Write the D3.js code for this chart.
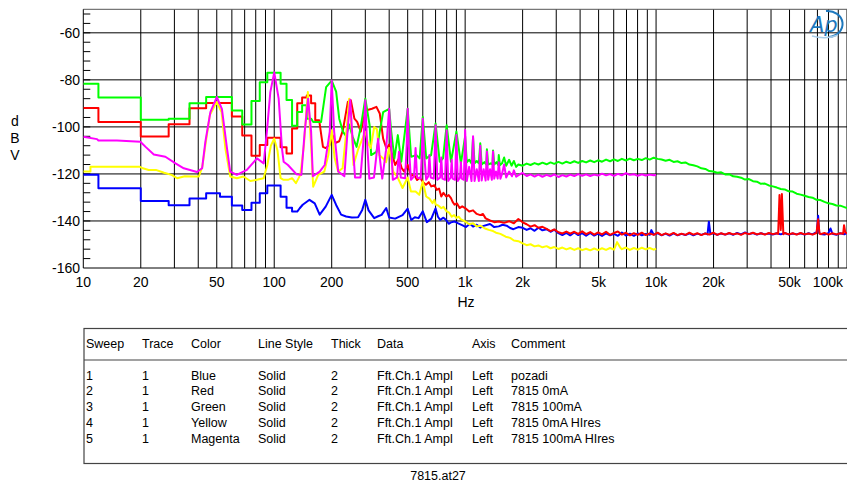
<!DOCTYPE html>
<html><head><meta charset="utf-8">
<script src="https://cdn.jsdelivr.net/npm/d3@7"></script>
<style>
body{margin:0;background:#fff;}
svg{display:block;font-family:"Liberation Sans",Arial,sans-serif;}
</style></head><body>
<svg id="c" width="847" height="483"></svg>
<script>
// ---------- data ----------
const yTickValues = [-60,-80,-100,-120,-140,-160];
const xTickValues = [10,20,50,100,200,500,1000,2000,5000,10000,20000,50000,100000];
const xTickLabels = ["10","20","50","100","200","500","1k","2k","5k","10k","20k","50k","100k"];
const xAxisTitle = "Hz";
const yAxisTitle = ["d","B","V"];
const fileCaption = "7815.at27";

const bluePozadi = [[10,-120.4],[12,-120.4],[12,-126.1],[20,-126.1],[20,-131.5],[28,-131.5],[28,-133.3],[36,-133.3],[36,-130.4],[44,-130.4],[44,-128.2],[52,-128.2],[52,-129.7],[60,-129.7],[60,-133.4],[68,-133.4],[68,-135.3],[76,-135.3],[76,-132.3],[84,-132.3],[84,-128.2],[92,-128.2],[92,-124.9],[108,-124.9],[108,-129.7],[116,-129.7],[116,-134.4],[124,-134.4],[124,-136],[132,-136],[136,-134.6],[141,-133.1],[153,-131],[163,-132.5],[173,-137.3],[186,-133.9],[200,-128.9],[211,-133.2],[224,-137.3],[238,-138.1],[255,-138.5],[275,-138.4],[289,-135.3],[300,-131],[312,-135.5],[334,-138.8],[350,-138],[365,-137.4],[386,-134.5],[400,-138.5],[430,-139],[470,-137.5],[500,-134.8],[522,-139.6],[545,-138.4],[570,-138.8],[600,-135.9],[630,-140.5],[665,-139],[700,-134.7],[720,-138.2],[740,-139.5],[770,-138.6],[795,-139.6],[820,-141.2],[843,-140.6],[880,-140.2],[920,-141],[970,-141.9],[1010,-142.6],[1060,-141.2],[1100,-142.4],[1150,-141.6],[1200,-142.8],[1250,-142.1],[1350,-141.3],[1420,-142.6],[1500,-142.3],[1570,-141.6],[1650,-142],[1720,-143],[1790,-143.5],[1900,-142.6],
[2000,-142.9],[2100,-143.8],[2200,-143.1],[2310,-144.2],[2420,-142.9],[2540,-144],[2670,-143.5],[2800,-144.6],[2930,-143.7],[3080,-145.2],[3230,-146],[3390,-145.1],[3550,-146.1],[3730,-144.9],[3910,-146],[4100,-145.2],[4300,-146.3],[4520,-145.1],[4740,-146.2],[4970,-145.4],[5210,-146.4],[5470,-145.3],[5740,-146.1],[6020,-145.5],[6310,-146.3],[6620,-144.9],[6950,-146.2],[7290,-145.4],[7650,-146.3],[8020,-145.3],[8420,-146.1],[8830,-145.5],[9260,-145.9],[9450,-143.9],[9720,-145.8],[10190,-145.2],[10690,-146.1],[11220,-145.4],[11770,-146.2],[12350,-145.3],[12950,-146.1],[13590,-145.5],[14250,-146],[14950,-145.3],[15680,-146.1],[16450,-145.4],[17260,-145.9],[18110,-145.3],[18600,-145.7],[18900,-140.3],[19250,-145.6],[19930,-145.2],[20910,-145.9],[21930,-145.3],[23010,-145.8],[24140,-145.2],[25320,-145.9],[26570,-145.1],[27870,-145.7],[29240,-144.9],[30670,-145.6],[32180,-145.1],[33750,-145.8],[35410,-145.2],[37150,-145.7],[38970,-145.3],[40880,-145.8],[42890,-145.2],[44990,-145.7],[47200,-145.1],[49520,-145.8],[51950,-145.3],[54500,-145.7],[57170,-145.2],[59980,-145.8],[62920,-145.2],[66010,-145.7],[69500,-144.6],[70600,-137.8],[71500,-145.1],[72640,-145.5],[76210,-145.8],[79950,-145.2],[82000,-143.2],[83870,-145.5],[87980,-145.9],[92300,-145.2],[96830,-145.7],[100000,-145.1]];

const red0mA = [[10,-92],[12,-92],[12,-97.9],[20,-97.9],[20,-104.1],[28,-104.1],[28,-98.9],[36,-98.9],[36,-92.1],[44,-92.1],[44,-89.8],[60,-89.8],[60,-95.6],[68,-95.6],[68,-103.7],[76,-103.7],[76,-112.3],[84,-112.3],[84,-107.7],[92,-107.7],[92,-104.6],[108,-104.6],[108,-108.7],[116,-108.7],[116,-111.3],[124,-111.3],[124,-100.7],[132,-100.7],[132,-90],[140,-90],[140,-87.5],[148,-87.5],[148,-86.6],[156,-86.6],[156,-90],[164,-90],[164,-97.2],[172,-97.2],[180,-108.5],[186,-109],[195,-107.7],[202,-103.5],[210,-106.8],[219,-106.1],[229,-101.4],[243,-89.4],[252,-88.7],[263,-96.5],[272,-97.9],[284,-102],[301,-93],[325,-92.3],[343,-91.5],[357,-94.3],[372,-105],[387,-109.2],[400,-107.5],[418,-112.7],[430,-116.2],[450,-113.4],[465,-117.5],[480,-119],[500,-116.2],[520,-120.8],[540,-120.4],[560,-122.6],[580,-121.5],[600,-123.4],[623,-124.6],[645,-123.5],[665,-125.3],[690,-124.8],[710,-126.8],[730,-126.2],[750,-129.6],[770,-128],[795,-129.6],[820,-129],[843,-130.3],[860,-131.9],[880,-133.1],[905,-132.5],[935,-134.5],[965,-133.8],[1000,-134.5],[1050,-136],[1100,-135.5],[1150,-137],[1200,-137.5],[1240,-137],[1280,-138.9],[1350,-139.8],[1420,-140.5],[1500,-140.2],[1600,-140.8],[1700,-140.1],[1800,-141],[1900,-139.2],[1950,-139.8],
[2000,-140.6],[2100,-141.4],[2200,-142.4],[2310,-141.8],[2420,-142.9],[2540,-142.5],[2670,-143.4],[2800,-144.3],[2930,-143.6],[3080,-144.8],[3230,-145.3],[3390,-144.5],[3550,-145.4],[3730,-144.6],[3910,-145.5],[4100,-144.4],[4300,-145.6],[4520,-144.7],[4740,-145.8],[4970,-144.9],[5210,-145.7],[5470,-144.6],[5740,-145.9],[6020,-145.1],[6310,-144.5],[6620,-145.8],[6950,-145],[7290,-146.1],[7650,-145.2],[8020,-145.9],[8420,-145],[8830,-146],[9260,-145.3],[9720,-145.9],[10190,-145],[10690,-146],[11220,-145.3],[11770,-145.9],[12350,-145.1],[12950,-146],[13590,-145.4],[14250,-145.9],[14950,-145],[15680,-145.8],[16450,-145.2],[17260,-146],[18110,-145.3],[19000,-145.8],[19930,-145],[20910,-145.9],[21930,-145.2],[23010,-145.8],[24140,-145.1],[25320,-145.7],[26570,-145.3],[27870,-145.9],[29240,-145.1],[30670,-145.6],[32180,-145],[33750,-145.7],[35410,-145.2],[37150,-145.8],[38970,-145.1],[40880,-145.6],[42890,-145.2],[43600,-145.5],[44300,-129],[45000,-143.8],[45600,-128.5],[46400,-145.6],[47200,-145.1],[49520,-145.7],[51950,-145.2],[54500,-145.8],[57170,-145.1],[59980,-145.7],[62920,-145.3],[66010,-145.8],[69240,-145.1],[70600,-139.3],[71800,-145.4],[72640,-145.6],[76210,-145.1],[79950,-145.8],[83870,-145.2],[87980,-145.7],[92300,-145.2],[95500,-145.4],[96500,-141.8],[97800,-144.7],[100000,-145.3]];

const green100mA = [[10,-81.7],[12,-81.7],[12,-87.5],[20,-87.5],[20,-97],[28,-97],[28,-96.5],[36,-96.5],[36,-90],[44,-90],[44,-87.3],[60,-87.3],[60,-93],[68,-93],[68,-99],[76,-99],[76,-89],[84,-89],[84,-81],[92,-81],[92,-77],[108,-77],[108,-81.7],[116,-81.7],[116,-88.6],[124,-88.6],[124,-99.5],[132,-99.5],[132,-93.7],[140,-93.7],[140,-90.8],[148,-90.8],[148,-96.5],[156,-96.5],[160,-97.9],[176,-97.9],[187,-83.1],[200,-80.3],[211,-85],[219,-96.5],[229,-102],[238,-104],[247,-99],[257,-104],[270,-108.5],[284,-100],[300,-88],[316,-99.3],[322,-112],[343,-110.6],[357,-102],[372,-93.7],[400,-92.3],[410,-102],[426,-113.4],[444,-103.5],[463,-114.8],[500,-92.3],[521,-112.7],[556,-112],[578,-113.4],[600,-95.8],[625,-113.4],[663,-112],[700,-98.6],[736,-114.8],[766,-113.4],[800,-99.3],[843,-114.8],[900,-102],[950,-115.5],[1000,-104],[1020,-115],[1050,-114],[1080,-115.5],[1100,-104.5],[1120,-115.5],[1150,-114.5],[1180,-115.5],[1200,-107],[1220,-116],[1260,-115],[1290,-116],[1300,-109.5],[1320,-116],[1360,-115.5],[1390,-116],[1400,-110],[1420,-116],[1460,-115],[1490,-116.2],[1500,-112],[1520,-116.3],[1560,-115.5],[1600,-113],[1640,-116.5],[1700,-114],[1750,-116.5],[1800,-114.5],[1850,-117],[1900,-116],
[2000,-116.5],[2100,-115.6],[2200,-116.2],[2310,-115.4],[2420,-116],[2540,-115.2],[2670,-115.9],[2800,-115.1],[2930,-115.7],[3080,-114.9],[3230,-115.6],[3390,-114.8],[3550,-115.4],[3730,-114.6],[3910,-115.3],[4100,-114.5],[4300,-115.1],[4520,-114.3],[4740,-115],[4970,-114.2],[5210,-114.8],[5470,-113.9],[5740,-114.6],[6020,-113.8],[6310,-114.5],[6620,-113.6],[6950,-114.3],[7290,-113.5],[7650,-114.2],[8020,-113.6],[8420,-114.1],[8830,-113.3],[9260,-113.9],[9720,-113.1],[10190,-113.6],[10690,-113.9],[11220,-114.4],[11770,-114],[12350,-114.9],[12950,-114.6],[13590,-115.4],[14250,-115.1],[14950,-116],[15680,-116.3],[16450,-116.8],[17260,-117.6],[18110,-117.9],[19000,-118.8],[19930,-119],[20910,-119.5],[21930,-119.3],[23010,-120.2],[24140,-120.1],[25320,-121],[26570,-121.2],[27870,-121.6],[29240,-122.4],[30670,-122.2],[32180,-123.1],[33750,-123.3],[35410,-124.2],[37150,-124.1],[38970,-124.9],[40880,-125.3],[42890,-125.8],[44990,-126.4],[47200,-126.6],[49520,-127.4],[51950,-127.5],[54500,-128.4],[57170,-128.8],[59980,-129.3],[62920,-129.8],[66010,-130.1],[69240,-131],[72640,-131.1],[76210,-131.9],[79950,-132.5],[83870,-132.8],[87980,-133.4],[92300,-133.5],[96830,-134.1],[100000,-134.5]];

const yellow0mAHires = [[10,-119],[10.9,-119],[10.9,-116.9],[19.7,-116.9],[20.5,-117.6],[22,-118.3],[24,-118.3],[26.5,-119.5],[29,-120.4],[31,-121.8],[34,-121],[38,-121.1],[40.3,-121.1],[42,-117],[43.6,-107.7],[46,-95],[50,-89.4],[53,-93.7],[55.5,-109.2],[58.8,-121.1],[63.7,-121.8],[69,-121.1],[75,-123],[81,-122.5],[88,-121.8],[92,-116.2],[96,-108],[100,-105],[104,-110],[108,-121.8],[112,-122.5],[118,-122.5],[124,-121.8],[130,-123.9],[137,-120.4],[143,-108],[150,-85.2],[156,-108],[160,-125.4],[170,-120.4],[183,-119],[192,-112],[200,-101.4],[207,-113],[216,-119],[228,-117.6],[240,-100],[247,-88],[255,-102],[260,-116.2],[276,-109.2],[300,-102],[310,-107],[320,-109],[334,-100],[345,-101],[355,-112],[372,-113.4],[385,-115],[400,-109],[420,-119],[440,-121],[470,-126],[500,-121.5],[520,-127.5],[550,-127.5],[575,-128.9],[600,-123.2],[625,-129.6],[650,-130.5],[675,-132.4],[690,-131],[700,-133],[725,-133.5],[750,-134.6],[770,-134],[800,-135.9],[825,-136.5],[850,-138.2],[875,-137.5],[900,-138.7],[925,-138.2],[950,-139.3],[975,-139.8],[1000,-140.2],[1050,-141.4],[1100,-141],[1150,-142.3],[1200,-142],[1270,-143.2],[1330,-143.8],[1400,-144.3],[1450,-145],[1530,-145.5],[1630,-146.7],[1720,-147.2],[1800,-148.3],[1900,-148.6],
[2000,-149.5],[2100,-150.3],[2200,-149.9],[2310,-150.8],[2420,-150.4],[2540,-151.2],[2670,-150.7],[2800,-151.6],[2930,-151.1],[3080,-151.9],[3230,-151.3],[3390,-152.1],[3550,-151.5],[3730,-152.3],[3910,-151.6],[4100,-152.4],[4300,-151.8],[4520,-152.5],[4740,-151.7],[4970,-152.4],[5210,-151.6],[5470,-152.3],[5740,-151.5],[6020,-152.2],[6250,-149],[6500,-151.4],[6620,-152],[6950,-151.3],[7290,-152.3],[7650,-151.5],[8020,-152.2],[8420,-151.4],[8830,-152.1],[9260,-151.5],[9720,-152.2],[10000,-151.8]];

const magenta100mAHires = [[10,-104.2],[11.8,-105.2],[12,-105.8],[15,-105.8],[19.9,-106.3],[21.2,-108.5],[23.4,-111.7],[26.9,-112.7],[30.4,-115.5],[33.6,-117.6],[39.4,-119.2],[41.9,-117.6],[43.6,-106.3],[46.3,-93.7],[50,-87.3],[53.2,-92.3],[56.6,-109.2],[58.8,-119],[63.7,-120.4],[71.9,-118.3],[81.2,-113.4],[88.1,-115.5],[91.5,-102.1],[95.4,-85.2],[100,-76.8],[105.5,-88],[109.8,-109.2],[112,-114.8],[118,-116.2],[130.6,-120.1],[138.7,-120.4],[144.4,-102.1],[150.4,-88],[156,-102],[159.3,-121],[173,-119],[183.8,-116.2],[195.4,-102],[200,-80.3],[206,-102],[216.4,-119],[233,-121],[243,-100],[250,-88.5],[257,-105],[265,-121.5],[283,-121.5],[294,-105],[300,-88.7],[306,-106],[315,-122],[333,-121.5],[343,-112],[350,-105],[357,-113],[368,-122],[385,-110],[400,-92.3],[410,-108],[418,-122.5],[440,-121.5],[450,-110.6],[460,-121.5],[485,-121.8],[494,-108],[500,-92.3],[507,-108],[520,-122.5],[540,-121],[550,-109],[560,-121.5],[585,-122],[594,-110],[600,-96.5],[608,-110],[625,-122.5],[641,-121],[650,-112],[660,-121.5],[685,-122],[700,-99.3],[715,-122.5],[740,-121.5],[750,-113],[760,-122],[785,-122.5],[800,-101.4],[815,-123],[840,-121.5],[850,-114],[860,-122],[885,-122.5],[900,-103.5],[915,-123],[940,-121.5],[950,-115],[960,-122],[985,-122.5],[1000,-101.3],[1020,-123],[1050,-117],[1080,-123],[1100,-104],[1120,-123],[1150,-118],[1180,-123],[1200,-108],[1220,-122.8],[1250,-118],[1280,-122.8],[1300,-110.5],[1320,-122.5],[1350,-118],[1380,-122.5],[1400,-110.5],[1420,-122],[1450,-119],[1480,-122],[1500,-115],[1530,-122],[1560,-120],[1600,-116],[1640,-121.5],[1700,-119],[1760,-121],[1800,-118.5],[1850,-121.2],[1950,-120],
[2000,-119.6],[2100,-120.9],[2200,-120.2],[2310,-121.1],[2420,-120.3],[2540,-121.2],[2670,-120.4],[2800,-121],[2930,-120.2],[3080,-121.3],[3230,-120.5],[3390,-121.1],[3550,-120.3],[3730,-120.9],[3910,-120.1],[4100,-120.8],[4300,-120.2],[4520,-120.9],[4740,-120.3],[4970,-120.7],[5210,-119.9],[5470,-120.6],[5740,-120.1],[6020,-120.8],[6310,-120],[6620,-120.6],[6950,-119.7],[7290,-120.4],[7650,-120.1],[8020,-120.8],[8420,-120.2],[8830,-120.7],[9260,-120.3],[9720,-120.6],[10000,-120.5]];

const seriesData = [bluePozadi, red0mA, green100mA, yellow0mAHires, magenta100mAHires];
const seriesColors = ["#0000ff","#ff0000","#00ff00","#ffff00","#ff00ff"];

const tableHeaders = ["Sweep","Trace","Color","Line Style","Thick","Data","Axis","Comment"];
const tableRows = [
  ["1","1","Blue","Solid","2","Fft.Ch.1 Ampl","Left","pozadi"],
  ["2","1","Red","Solid","2","Fft.Ch.1 Ampl","Left","7815 0mA"],
  ["3","1","Green","Solid","2","Fft.Ch.1 Ampl","Left","7815 100mA"],
  ["4","1","Yellow","Solid","2","Fft.Ch.1 Ampl","Left","7815 0mA HIres"],
  ["5","1","Magenta","Solid","2","Fft.Ch.1 Ampl","Left","7815 100mA HIres"]
];

// ---------- layout ----------
const svg = d3.select("#c");
const L = 83.3, R = 847, T = 9.3, B = 268;
const x = d3.scaleLog().domain([10, 100000]).range([L, R]);
const y = d3.scaleLinear().domain([-160, -50]).range([B, T]);

const grid = svg.append("g").attr("stroke", "#000").attr("stroke-width", 1).attr("fill", "none");
x.ticks().filter(v => v > 10).forEach(v => {
  grid.append("line").attr("x1", x(v)).attr("x2", x(v)).attr("y1", T).attr("y2", B);
});
yTickValues.filter(v => v > -160).forEach(v => {
  grid.append("line").attr("x1", L).attr("x2", R).attr("y1", y(v)).attr("y2", y(v));
});
grid.append("line").attr("x1", L).attr("x2", R).attr("y1", T).attr("y2", T).attr("stroke", "#555");
grid.append("line").attr("x1", L).attr("x2", L).attr("y1", T).attr("y2", B);
grid.append("line").attr("x1", L).attr("x2", R).attr("y1", B).attr("y2", B);
d3.range(-156, -50, 4).forEach(v => {
  grid.append("line").attr("x1", L).attr("x2", L + 7).attr("y1", y(v)).attr("y2", y(v));
});

svg.append("defs").append("clipPath").attr("id", "clip")
  .append("rect").attr("x", L).attr("y", T).attr("width", R - L).attr("height", B - T);
const line = d3.line().x(d => x(d[0])).y(d => y(d[1]));
const tg = svg.append("g").attr("clip-path", "url(#clip)");
seriesData.forEach((s, i) => {
  tg.append("path").datum(s).attr("d", line).attr("fill", "none")
    .attr("stroke", seriesColors[i]).attr("stroke-width", 2).attr("stroke-linejoin", "round");
});

const lab = svg.append("g").attr("font-size", 14).attr("fill", "#000");
yTickValues.forEach(v => {
  lab.append("text").attr("x", 80).attr("y", y(v) + 5).attr("text-anchor", "end").text(v);
});
xTickValues.forEach((v, i) => {
  const px = x(v);
  const t = lab.append("text").attr("y", 287).text(xTickLabels[i]);
  if (px > R - 10) t.attr("x", 843).attr("text-anchor", "end");
  else t.attr("x", px).attr("text-anchor", "middle");
});
lab.append("text").attr("x", 466).attr("y", 307).attr("text-anchor", "middle").text(xAxisTitle);
yAxisTitle.forEach((c, i) => {
  lab.append("text").attr("x", 15).attr("y", 126 + i * 17).attr("text-anchor", "middle").text(c);
});

// logo
const logo = svg.append("g");
logo.append("path").attr("d", "M826,11 A15,13 0 0 1 829,37").attr("fill", "none").attr("stroke", "#1e78bd").attr("stroke-width", 2);
logo.append("path").attr("d", "M812,36 Q826,40 838,35").attr("fill", "none").attr("stroke", "#a8cdea").attr("stroke-width", 1.5);
logo.append("text").attr("x", 810).attr("y", 32).attr("font-size", 21).attr("font-style", "italic")
  .attr("fill", "#1e78bd").attr("font-family", "DejaVu Sans").text("Ap");

// table
const tb = svg.append("g");
tb.append("rect").attr("x", 84).attr("y", 328.5).attr("width", 800).attr("height", 135)
  .attr("fill", "none").attr("stroke", "#444").attr("stroke-width", 1.2);
tb.append("line").attr("x1", 84).attr("x2", 847).attr("y1", 360).attr("y2", 360).attr("stroke", "#444").attr("stroke-width", 1.2);
const colX = [86, 142, 191, 258, 331, 377, 472, 511];
const tt = tb.append("g").attr("font-size", 12.5).attr("fill", "#000");
tableHeaders.forEach((h, i) => tt.append("text").attr("x", colX[i]).attr("y", 347.5).text(h));
tableRows.forEach((r, j) => {
  r.forEach((c, i) => tt.append("text").attr("x", colX[i]).attr("y", 379.5 + j * 15.8).text(c));
});
svg.append("text").attr("x", 438).attr("y", 480).attr("text-anchor", "middle")
  .attr("font-size", 12.5).text(fileCaption);
</script>
</body></html>
